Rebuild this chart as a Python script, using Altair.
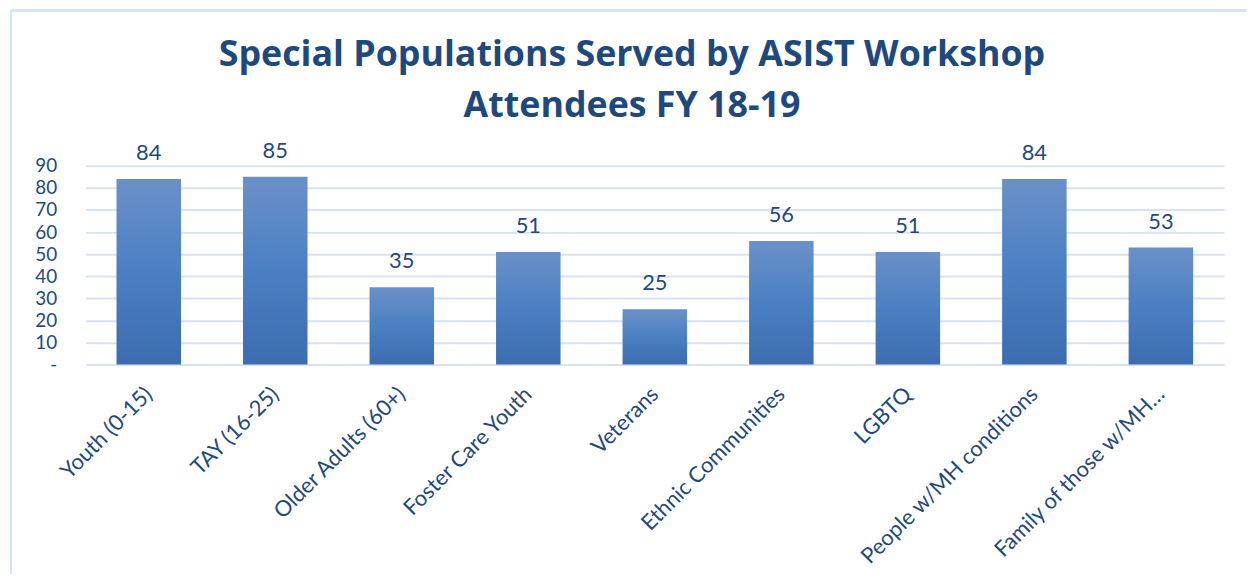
import altair as alt
import pandas as pd

categories = ["Youth (0-15)", "TAY (16-25)", "Older Adults (60+)", "Foster Care Youth",
              "Veterans", "Ethnic Communities", "LGBTQ", "People w/MH conditions",
              "Family of those w/MH…"]
values = [84, 85, 35, 51, 25, 56, 51, 84, 53]
y_ticks = [0, 10, 20, 30, 40, 50, 60, 70, 80, 90]

df = pd.DataFrame({"category": categories, "value": values})

TEXT = "#1F497D"
FONT = "Lato"

x_enc = alt.X("category:N", sort=categories, title=None,
              scale=alt.Scale(paddingInner=0.49, paddingOuter=0.245),
              axis=alt.Axis(labelAngle=-45, labelAlign="right", labelBaseline="middle",
                            labelFontSize=22, labelColor=TEXT, labelFont=FONT,
                            labelPadding=26, ticks=False, domain=False, labelLimit=400))
y_enc = alt.Y("value:Q", title=None,
              scale=alt.Scale(domain=[0, 90], nice=False),
              axis=alt.Axis(values=y_ticks, tickCount=10,
                            labelExpr="datum.value == 0 ? '-' : datum.label",
                            labelFontSize=19, labelColor=TEXT, labelFont=FONT,
                            labelOverlap=False,
                            labelPadding=29, ticks=False, domain=False,
                            grid=True, gridColor="#D9E2F3", gridWidth=2))

bars = alt.Chart(df).mark_bar(
    color=alt.Gradient(gradient="linear", x1=0, x2=0, y1=0, y2=1,
                       stops=[alt.GradientStop(color="#6B90C8", offset=0),
                              alt.GradientStop(color="#4A80C3", offset=0.5),
                              alt.GradientStop(color="#3C6DB0", offset=1)])
).encode(x=x_enc, y=y_enc)

labels = alt.Chart(df).mark_text(
    baseline="bottom", dy=-14, fontSize=22, color=TEXT, font=FONT
).encode(x=x_enc, y=y_enc, text="value:Q")

border_left = alt.Chart(df).mark_rule(color="#D6E3F4", strokeWidth=2).encode(
    x=alt.value(-75), y=alt.value(-156), y2=alt.value(420))
border_top = alt.Chart(df).mark_rule(color="#D6E3F4", strokeWidth=2).encode(
    x=alt.value(-75), x2=alt.value(1170), y=alt.value(-156))

chart = alt.layer(bars, labels, border_left, border_top).properties(
    width=1146, height=200,
    autosize=alt.AutoSizeParams(type="none"),
    padding={"left": 78, "top": 157, "right": 22, "bottom": 209},
    title=alt.TitleParams(
        text=["Special Populations Served by ASIST Workshop", "Attendees FY 18-19"],
        anchor="middle", fontSize=36, font="Open Sans", fontWeight="bold", color="#1F497D",
        lineHeight=51, offset=-116, dx=-23),
).configure_view(stroke=None)

chart.save("out.html", embed_options={"renderer": "svg", "actions": False})
